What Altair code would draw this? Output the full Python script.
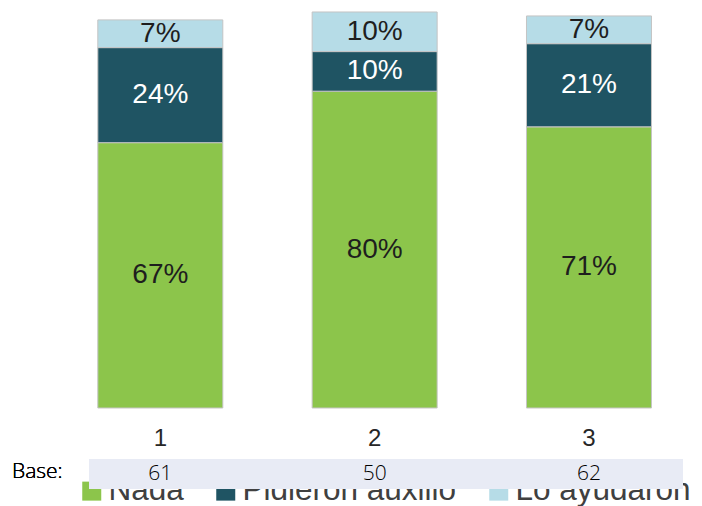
import altair as alt
import pandas as pd

grupos = [1, 2, 3]
series = ["Nada", "Pidieron auxilio", "Lo ayudaron"]
nada = [67, 80, 71]
pidieron = [24, 10, 21]
ayudaron = [7, 10, 7]
bases = [61, 50, 62]

colores = ["#8CC54B", "#1F5463", "#B6DCE7"]

rows = []
for i, g in enumerate(grupos):
    for k, (s, vals) in enumerate(zip(series, [nada, pidieron, ayudaron])):
        rows.append({"grupo": g, "serie": s, "orden": k, "valor": vals[i],
                     "etiqueta": f"{vals[i]}%"})
df = pd.DataFrame(rows)
df_base = pd.DataFrame({"grupo": grupos, "base": bases})
df_leg = pd.DataFrame({"serie": series})

color_scale = alt.Scale(domain=series, range=colores)
xscale = alt.Scale(domain=[0.3126, 3.4667], nice=False, zero=False)
yscale = alt.Scale(domain=[-25, 100.5], nice=False, zero=False)

# Legend-only panel (drawn first, so the Base band of the main panel covers it)
legend_panel = alt.Chart(df_leg).mark_square(opacity=0, size=1).encode(
    x=alt.value(10), y=alt.value(0),
    color=alt.Color("serie:N", scale=color_scale, sort=series,
                    legend=alt.Legend(orient="none", legendX=68, legendY=466,
                                      direction="horizontal", title=None,
                                      symbolType="square", symbolSize=361,
                                      symbolStrokeWidth=0, symbolOpacity=1,
                                      labelFontSize=31.5, labelFont="Liberation Sans",
                                      labelColor="#404040", labelOffset=1,
                                      labelLimit=500,
                                      columnPadding=26, padding=0)),
).properties(width=686, height=1)

bars = alt.Chart(df).mark_bar(size=125, stroke="#C4C4C4", strokeWidth=1).encode(
    x=alt.X("grupo:Q", scale=xscale, axis=None),
    y=alt.Y("valor:Q", stack="zero", scale=yscale, axis=None),
    color=alt.Color("serie:N", scale=color_scale, legend=None),
    order=alt.Order("orden:Q"),
)

labels = alt.Chart(df).transform_stack(
    stack="valor", groupby=["grupo"], as_=["y0", "y1"],
    sort=[alt.SortField("orden", order="ascending")]
).transform_calculate(mid="(datum.y0 + datum.y1) / 2").mark_text(
    font="Liberation Sans", fontSize=28
).encode(
    x=alt.X("grupo:Q", scale=xscale, axis=None),
    y=alt.Y("mid:Q", scale=yscale, axis=None),
    text="etiqueta:N",
    color=alt.condition(alt.datum.serie == "Pidieron auxilio",
                        alt.value("#FFFFFF"), alt.value("#1E1E1E")),
)

xlabels = alt.Chart(df_base).mark_text(font="Liberation Sans", fontSize=24,
                                       color="#262626").encode(
    x=alt.X("grupo:Q", scale=xscale, axis=None),
    y=alt.value(429),
    text="grupo:N",
)

band = alt.Chart(df_base).mark_rect(color="#E8EBF5").encode(
    x=alt.value(81), x2=alt.value(675), y=alt.value(449), y2=alt.value(479)
)

base_title = alt.Chart(df_base).mark_text(font="Open Sans", fontSize=21, align="left",
                                          fontWeight=300, color="#000000").encode(
    x=alt.value(4), y=alt.value(462), text=alt.value("Base:")
)

base_vals = alt.Chart(df_base).mark_text(font="Open Sans", fontSize=21, fontWeight=300,
                                         color="#000000").encode(
    x=alt.X("grupo:Q", scale=xscale, axis=None),
    y=alt.value(464),
    text="base:N",
)

main = alt.layer(bars, labels, xlabels, band, base_title, base_vals).properties(
    width=686, height=497
)

chart = alt.vconcat(legend_panel, main, spacing=0, bounds="flush").resolve_scale(
    color="independent"
).resolve_legend(color="independent").properties(padding=0).configure_view(stroke=None)

chart.save("out.html", embed_options={"renderer": "svg", "actions": False})
